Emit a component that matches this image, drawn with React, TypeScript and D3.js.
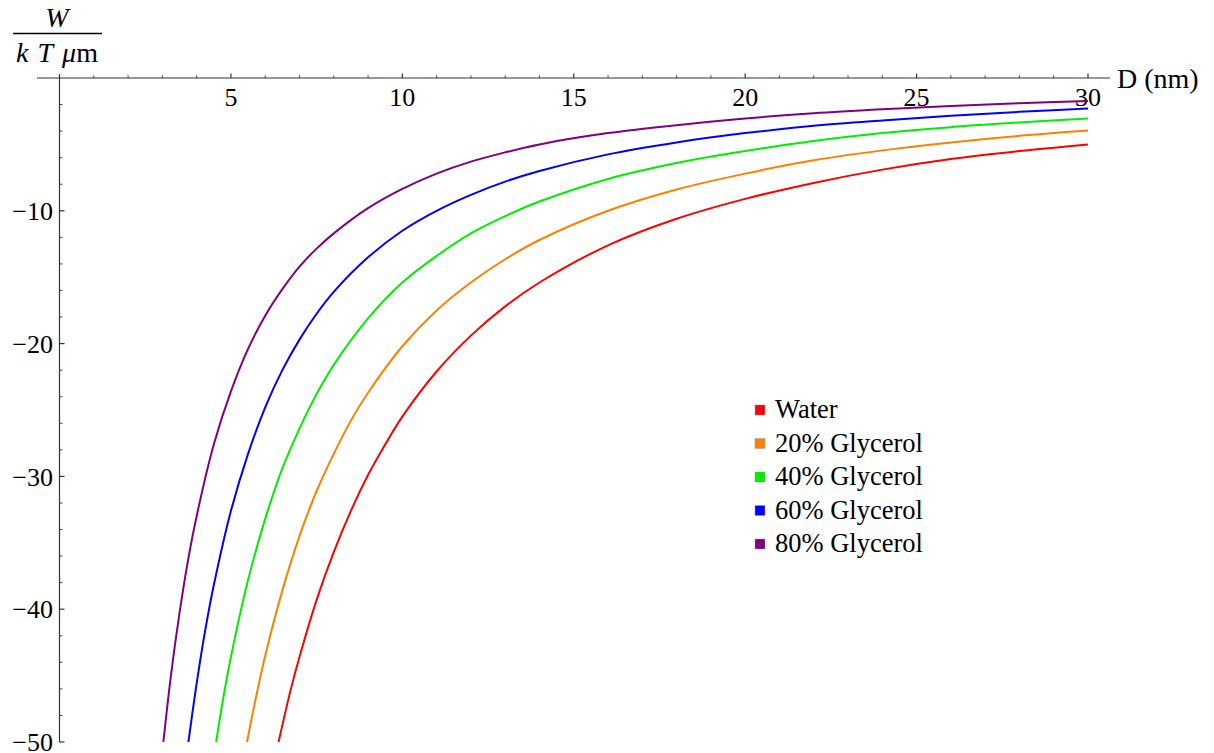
import { useRef, useEffect } from 'react';
import * as d3 from 'd3';

// distances (nm) and interaction energy W/(kT um)
const waterD = [6.39, 6.75, 7, 7.5, 8, 8.5, 9, 9.5, 10, 11, 12, 13, 14, 16, 18, 20, 22, 24, 26, 28, 30];
const waterW = [-50, -46.0, -43.6, -39.3, -35.7, -32.6, -29.9, -27.6, -25.5, -22.1, -19.4, -17.2, -15.4, -12.6, -10.6, -9.1, -7.9, -6.9, -6.1, -5.5, -5.0];

const gly20D = [5.47, 5.75, 6, 6.5, 7, 7.5, 8, 8.5, 9, 10, 11, 12, 13, 14, 16, 18, 20, 22, 24, 26, 28, 30];
const gly20W = [-50, -46.4, -43.5, -38.6, -34.5, -31.1, -28.3, -25.8, -23.7, -20.2, -17.5, -15.4, -13.65, -12.2, -10.0, -8.4, -7.2, -6.2, -5.45, -4.85, -4.35, -3.95];

const gly40D = [4.57, 4.75, 5, 5.5, 6, 6.5, 7, 7.5, 8, 9, 10, 11, 12, 13, 14, 16, 18, 20, 22, 24, 26, 28, 30];
const gly40W = [-50, -47.1, -43.6, -37.8, -33.2, -29.4, -26.4, -23.8, -21.6, -18.1, -15.4, -13.4, -11.7, -10.4, -9.3, -7.6, -6.4, -5.5, -4.75, -4.15, -3.7, -3.35, -3.05];

const gly60D = [3.76, 4, 4.25, 4.5, 5, 5.5, 6, 6.5, 7, 7.5, 8, 9, 10, 11, 12, 13, 14, 16, 18, 20, 22, 24, 26, 28, 30];
const gly60W = [-50, -45.6, -41.6, -38.2, -32.6, -28.3, -24.8, -22.0, -19.7, -17.75, -16.1, -13.5, -11.5, -10.0, -8.8, -7.8, -7.0, -5.75, -4.85, -4.15, -3.6, -3.2, -2.85, -2.55, -2.3];

const gly80D = [3.03, 3.25, 3.5, 3.75, 4, 4.5, 5, 5.5, 6, 6.5, 7, 7.5, 8, 9, 10, 11, 12, 13, 14, 16, 18, 20, 22, 24, 26, 28, 30];
const gly80W = [-50, -45.0, -40.3, -36.3, -33.0, -27.6, -23.6, -20.4, -17.9, -15.9, -14.2, -12.85, -11.7, -9.8, -8.35, -7.2, -6.3, -5.6, -5.0, -4.15, -3.55, -3.05, -2.65, -2.35, -2.1, -1.9, -1.73];

const seriesNames = ['Water', '20% Glycerol', '40% Glycerol', '60% Glycerol', '80% Glycerol'];
const seriesColors = ['#ff0000', '#ff8000', '#00ee00', '#0000ff', '#800080'];

const xMajor = [5, 10, 15, 20, 25, 30];
const yMajor = [-10, -20, -30, -40, -50];

const FONT = '"Liberation Serif", "Times New Roman", serif';

const App = () => {
  const svgRef = useRef<SVGSVGElement>(null);

  useEffect(() => {
    const svg = d3.select(svgRef.current);
    svg.selectAll('*').remove();

    const x = d3.scaleLinear().domain([0, 30]).range([59.5, 1088]);
    const y = d3.scaleLinear().domain([0, -50]).range([78, 742]);

    const allD = [waterD, gly20D, gly40D, gly60D, gly80D];
    const allW = [waterW, gly20W, gly40W, gly60W, gly80W];

    // axes
    const axes = svg.append('g').attr('stroke', '#333').attr('stroke-width', 1.2);
    axes.append('line').attr('x1', 37).attr('x2', 1110).attr('y1', y(0)).attr('y2', y(0));
    axes.append('line').attr('x1', x(0)).attr('x2', x(0)).attr('y1', 74).attr('y2', y(-50));

    const xMinor = d3.range(1, 31).filter(v => v % 5 !== 0);
    axes.selectAll('.xmin').data(xMinor).enter().append('line')
      .attr('x1', d => x(d)).attr('x2', d => x(d))
      .attr('y1', y(0)).attr('y2', y(0) - 2.7).attr('stroke-width', 0.9);
    axes.selectAll('.xmaj').data(xMajor).enter().append('line')
      .attr('x1', d => x(d)).attr('x2', d => x(d))
      .attr('y1', y(0)).attr('y2', y(0) - 4.5);

    const yMinor = d3.range(-2, -50, -2).filter(v => v % 10 !== 0);
    axes.selectAll('.ymin').data(yMinor).enter().append('line')
      .attr('x1', x(0)).attr('x2', x(0) + 3)
      .attr('y1', d => y(d)).attr('y2', d => y(d)).attr('stroke-width', 0.9);
    axes.selectAll('.ymaj').data(yMajor).enter().append('line')
      .attr('x1', x(0)).attr('x2', x(0) + 5)
      .attr('y1', d => y(d)).attr('y2', d => y(d));

    svg.selectAll('.xlab').data(xMajor).enter().append('text')
      .attr('x', d => x(d)).attr('y', 106)
      .attr('text-anchor', 'middle')
      .attr('font-family', FONT).attr('font-size', 26)
      .text(d => d);

    svg.selectAll('.ylab').data(yMajor).enter().append('text')
      .attr('x', 53).attr('y', d => y(d)).attr('dy', '0.35em')
      .attr('text-anchor', 'end')
      .attr('font-family', FONT).attr('font-size', 26)
      .text(d => '\u2212' + Math.abs(d));

    svg.append('text')
      .attr('x', 1117).attr('y', 88)
      .attr('font-family', FONT).attr('font-size', 28)
      .text('D (nm)');

    // y axis label as fraction
    const frac = svg.append('g').attr('font-family', FONT).attr('font-size', 28);
    frac.append('text').attr('x', 57).attr('y', 27).attr('text-anchor', 'middle')
      .attr('font-style', 'italic').text('W');
    frac.append('line').attr('x1', 13).attr('x2', 102).attr('y1', 33.5).attr('y2', 33.5)
      .attr('stroke', '#000').attr('stroke-width', 1.5);
    const den = frac.append('text').attr('x', 57).attr('y', 62).attr('text-anchor', 'middle');
    den.append('tspan').attr('font-style', 'italic').text('k');
    den.append('tspan').attr('dx', 9).attr('font-style', 'italic').text('T');
    den.append('tspan').attr('dx', 9).attr('font-style', 'italic').text('\u03bc');
    den.append('tspan').text('m');

    // curves
    const line = d3.line<[number, number]>()
      .x(d => x(d[0]))
      .y(d => y(d[1]))
      .curve(d3.curveCatmullRom.alpha(0.5));

    allD.forEach((ds, i) => {
      const pts = ds.map((dv, j) => [dv, allW[i][j]] as [number, number]);
      svg.append('path')
        .attr('d', line(pts))
        .attr('fill', 'none')
        .attr('stroke', seriesColors[i])
        .attr('stroke-width', 2);
    });

    // legend
    const legend = svg.append('g').attr('transform', 'translate(755, 409)');
    seriesNames.forEach((name, i) => {
      const row = legend.append('g').attr('transform', `translate(0, ${i * 33.5})`);
      row.append('rect').attr('x', 0).attr('y', -4).attr('width', 10).attr('height', 10)
        .attr('fill', seriesColors[i]).attr('stroke', '#999').attr('stroke-width', 0.5);
      row.append('text').attr('x', 20).attr('y', 9)
        .attr('font-family', FONT).attr('font-size', 26.5)
        .text(name);
    });
  }, []);

  return (
    <div style={{ position: 'fixed', left: 0, top: 0, background: '#fff' }}>
      <svg ref={svgRef} width={1214} height={753} style={{ display: 'block' }}></svg>
    </div>
  );
};

export default App;
